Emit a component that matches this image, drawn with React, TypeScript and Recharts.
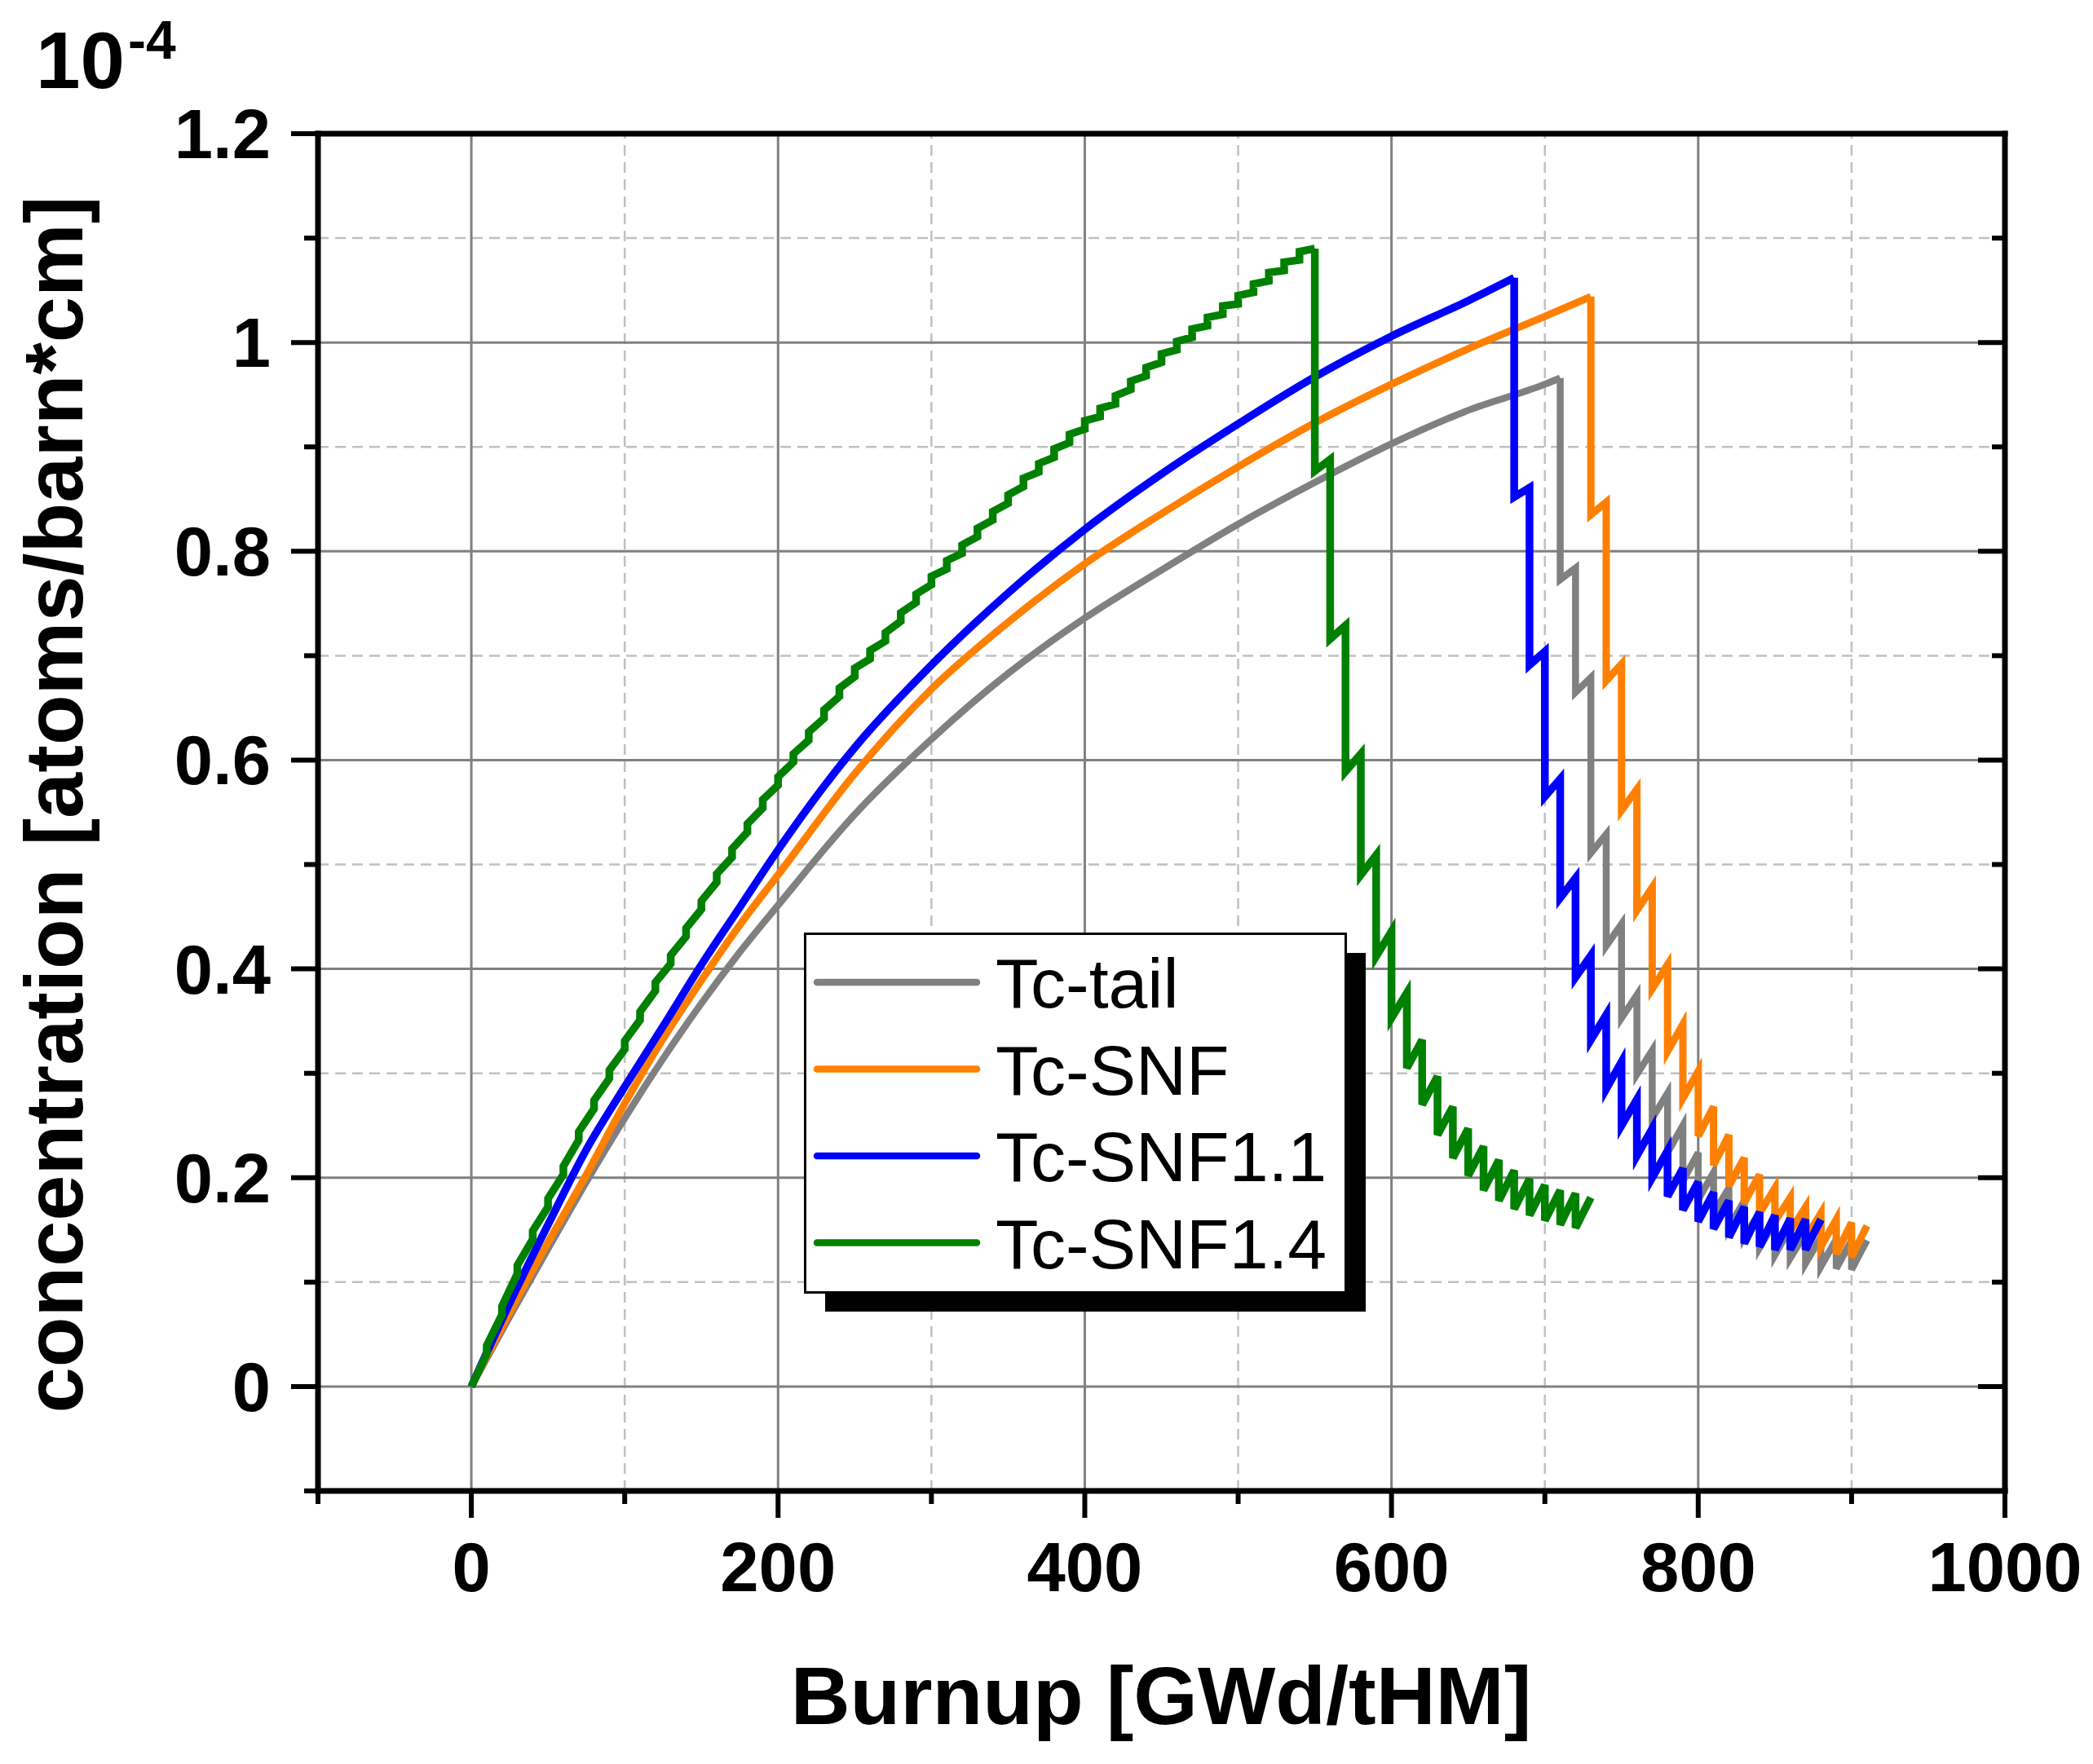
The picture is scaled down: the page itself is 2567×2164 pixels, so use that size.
import React from "react";
import { LineChart, Line, XAxis, YAxis, ReferenceLine } from "recharts";

const W = 2567;
const H = 2164;
const FONT = "'Liberation Sans', Arial, Helvetica, sans-serif";

// axis ticks
const xMajor = [0, 200, 400, 600, 800, 1000];
const xMinor = [-100, 100, 300, 500, 700, 900];
const yMajor = [0, 0.2, 0.4, 0.6, 0.8, 1, 1.2];
const yMinor = [-0.1, 0.1, 0.3, 0.5, 0.7, 0.9, 1.1];

// Tc-tail
const tailRiseX = [0, 25, 50, 75, 100, 125, 150, 175, 200, 250, 300, 350, 400, 450, 500, 550, 600, 650, 700, 710];
const tailRiseY = [0, 0.067, 0.132, 0.196, 0.257, 0.314, 0.367, 0.416, 0.461, 0.548, 0.62, 0.683, 0.736, 0.782, 0.826, 0.866, 0.903, 0.935, 0.96, 0.966];
const tailDropX = [710, 720, 730, 740, 750, 760, 770, 780, 790, 800, 810, 820, 830, 840, 850, 860, 870, 880, 890, 900];
const tailDropTop = [0.966, 0.784, 0.679, 0.529, 0.443, 0.375, 0.322, 0.281, 0.25, 0.224, 0.205, 0.19, 0.178, 0.167, 0.158, 0.152, 0.147, 0.143, 0.141, 0.14];
const tailDropBottom = [0.773, 0.665, 0.511, 0.422, 0.353, 0.299, 0.257, 0.224, 0.197, 0.179, 0.166, 0.152, 0.143, 0.133, 0.126, 0.123, 0.118, 0.115, 0.113, 0.112];
const tailEnd = [910, 0.14];

// Tc-SNF
const snfRiseX = [0, 25, 50, 75, 100, 125, 150, 175, 200, 250, 300, 350, 400, 450, 500, 550, 600, 650, 700, 730];
const snfRiseY = [0, 0.071, 0.138, 0.203, 0.271, 0.333, 0.389, 0.442, 0.49, 0.587, 0.668, 0.732, 0.788, 0.836, 0.881, 0.923, 0.96, 0.994, 1.025, 1.044];
const snfDropX = [730, 740, 750, 760, 770, 780, 790, 800, 810, 820, 830, 840, 850, 860, 870, 880, 890, 900];
const snfDropTop = [1.044, 0.847, 0.692, 0.572, 0.478, 0.404, 0.347, 0.302, 0.268, 0.241, 0.219, 0.203, 0.19, 0.181, 0.172, 0.166, 0.16, 0.157];
const snfDropBottom = [0.835, 0.676, 0.552, 0.456, 0.381, 0.321, 0.276, 0.24, 0.212, 0.192, 0.176, 0.166, 0.158, 0.149, 0.142, 0.134, 0.127, 0.124];
const snfEnd = [910, 0.154];

// Tc-SNF1.1
const snf11RiseX = [0, 25, 50, 75, 100, 125, 150, 175, 200, 250, 300, 350, 400, 450, 500, 550, 600, 650, 680];
const snf11RiseY = [0, 0.08, 0.155, 0.227, 0.287, 0.345, 0.404, 0.459, 0.514, 0.612, 0.691, 0.76, 0.821, 0.874, 0.922, 0.967, 1.006, 1.04, 1.062];
const snf11DropX = [680, 690, 700, 710, 720, 730, 740, 750, 760, 770, 780, 790, 800, 810, 820, 830, 840, 850, 860, 870];
const snf11DropTop = [1.062, 0.861, 0.704, 0.582, 0.487, 0.413, 0.356, 0.311, 0.275, 0.247, 0.226, 0.209, 0.196, 0.186, 0.178, 0.172, 0.167, 0.164, 0.161, 0.16];
const snf11DropBottom = [0.852, 0.691, 0.565, 0.468, 0.392, 0.332, 0.285, 0.25, 0.221, 0.2, 0.182, 0.169, 0.158, 0.151, 0.143, 0.137, 0.134, 0.131, 0.131, 0.131];
const snf11End = [880, 0.16];

// Tc-SNF1.4 (rise has visible steps every 10 GWd)
const snf14StepX = [10, 20, 30, 40, 50, 60, 70, 80, 90, 100, 110, 120, 130, 140, 150, 160, 170, 180, 190, 200, 210, 220, 230, 240, 250, 260, 270, 280, 290, 300, 310, 320, 330, 340, 350, 360, 370, 380, 390, 400, 410, 420, 430, 440, 450, 460, 470, 480, 490, 500, 510, 520, 530, 540];
const snf14StepLow = [0.031, 0.069, 0.108, 0.141, 0.172, 0.203, 0.236, 0.266, 0.295, 0.323, 0.351, 0.379, 0.405, 0.431, 0.457, 0.483, 0.507, 0.531, 0.554, 0.576, 0.598, 0.619, 0.64, 0.661, 0.68, 0.697, 0.714, 0.733, 0.751, 0.768, 0.783, 0.798, 0.814, 0.83, 0.846, 0.862, 0.876, 0.89, 0.904, 0.917, 0.929, 0.941, 0.955, 0.968, 0.981, 0.993, 1.005, 1.016, 1.027, 1.037, 1.048, 1.059, 1.069, 1.079];
const snf14StepHigh = [0.039, 0.077, 0.116, 0.149, 0.18, 0.211, 0.244, 0.274, 0.303, 0.331, 0.359, 0.387, 0.413, 0.439, 0.465, 0.491, 0.515, 0.539, 0.562, 0.584, 0.606, 0.627, 0.648, 0.669, 0.688, 0.705, 0.722, 0.741, 0.759, 0.776, 0.791, 0.806, 0.822, 0.838, 0.854, 0.87, 0.884, 0.898, 0.912, 0.925, 0.937, 0.949, 0.963, 0.976, 0.989, 1.001, 1.013, 1.024, 1.035, 1.045, 1.056, 1.067, 1.077, 1.087];
const snf14DropX = [550, 560, 570, 580, 590, 600, 610, 620, 630, 640, 650, 660, 670, 680, 690, 700, 710, 720];
const snf14DropTop = [1.09, 0.888, 0.729, 0.606, 0.509, 0.436, 0.377, 0.332, 0.297, 0.268, 0.247, 0.23, 0.217, 0.207, 0.199, 0.193, 0.188, 0.185];
const snf14DropBottom = [0.877, 0.716, 0.589, 0.49, 0.412, 0.353, 0.305, 0.27, 0.241, 0.219, 0.202, 0.188, 0.178, 0.17, 0.164, 0.159, 0.155, 0.152];
const snf14End = [730, 0.181];

type Pt = { x: number; y: number };

function drops(dx: number[], top: number[], bottom: number[], end: number[]): Pt[] {
  const out: Pt[] = [];
  dx.forEach((x, i) => {
    out.push({ x, y: top[i] });
    out.push({ x, y: bottom[i] });
  });
  out.push({ x: end[0], y: end[1] });
  return out;
}

const zip = (xs: number[], ys: number[]): Pt[] => xs.map((x, i) => ({ x, y: ys[i] }));

const snf14Rise: Pt[] = [{ x: 0, y: 0 }];
snf14StepX.forEach((x, i) => {
  snf14Rise.push({ x, y: snf14StepLow[i] });
  snf14Rise.push({ x, y: snf14StepHigh[i] });
});
snf14Rise.push({ x: snf14DropX[0], y: snf14DropTop[0] });

const series = [
  { name: "Tc-tail", color: "#808080", width: 8.5, rise: zip(tailRiseX, tailRiseY), riseType: "monotone", fall: drops(tailDropX, tailDropTop, tailDropBottom, tailEnd) },
  { name: "Tc-SNF", color: "#ff8000", width: 9, rise: zip(snfRiseX, snfRiseY), riseType: "monotone", fall: drops(snfDropX, snfDropTop, snfDropBottom, snfEnd) },
  { name: "Tc-SNF1.1", color: "#0000ff", width: 9.5, rise: zip(snf11RiseX, snf11RiseY), riseType: "monotone", fall: drops(snf11DropX, snf11DropTop, snf11DropBottom, snf11End) },
  { name: "Tc-SNF1.4", color: "#008000", width: 9.5, rise: snf14Rise, riseType: "linear", fall: drops(snf14DropX, snf14DropTop, snf14DropBottom, snf14End) },
];

const near = (arr: number[], v: number) => arr.some((a) => Math.abs(a - v) < 1e-9);
const xTicks = [...xMinor, ...xMajor].sort((a, b) => a - b);
const yTicks = [...yMinor, ...yMajor].sort((a, b) => a - b);

const BottomTick = (props: any) => {
  const { x, y, payload } = props;
  const major = near(xMajor, payload.value);
  return (
    <g>
      <line x1={x} y1={y} x2={x} y2={y + (major ? 33 : 16)} stroke="#000" strokeWidth={6} />
      {major && (
        <text x={x} y={y + 123} textAnchor="middle" fontSize={85} fontWeight="bold" fontFamily={FONT} fill="#000">
          {payload.value}
        </text>
      )}
    </g>
  );
};

const TopTick = (props: any) => {
  const { x, y, payload } = props;
  const major = near(xMajor, payload.value);
  return <line x1={x} y1={y} x2={x} y2={y + (major ? 33 : 16)} stroke="#000" strokeWidth={6} />;
};

const LeftTick = (props: any) => {
  const { x, y, payload } = props;
  const major = near(yMajor, payload.value);
  return (
    <g>
      <line x1={x - (major ? 33 : 17)} y1={y} x2={x} y2={y} stroke="#000" strokeWidth={6} />
      {major && (
        <text x={x - 58} y={y + 30} textAnchor="end" fontSize={85} fontWeight="bold" fontFamily={FONT} fill="#000">
          {payload.value}
        </text>
      )}
    </g>
  );
};

const RightTick = (props: any) => {
  const { x, y, payload } = props;
  const major = near(yMajor, payload.value);
  return <line x1={x - (major ? 33 : 16)} y1={y} x2={x} y2={y} stroke="#000" strokeWidth={6} />;
};

const axisLine = { stroke: "#000", strokeWidth: 7, strokeLinecap: "square" as const };

export default function App() {
  return (
    <div style={{ position: "fixed", left: 0, top: 0, width: W, height: H, background: "#fff", overflow: "hidden" }}>
      <LineChart width={W} height={H} margin={{ top: 163, right: W - 2460, bottom: H - 1830, left: 389 }}>
        <XAxis
          xAxisId="b"
          type="number"
          dataKey="x"
          domain={[-100, 1000]}
          ticks={xTicks}
          interval={0}
          height={1}
          tickSize={0}
          tickMargin={0}
          tickLine={false}
          axisLine={axisLine}
          tick={<BottomTick />}
          allowDataOverflow
        />
        <XAxis
          xAxisId="t"
          orientation="top"
          type="number"
          domain={[-100, 1000]}
          ticks={xTicks}
          interval={0}
          height={1}
          tickSize={0}
          tickMargin={0}
          tickLine={false}
          axisLine={axisLine}
          tick={<TopTick />}
          allowDataOverflow
        />
        <YAxis
          yAxisId="l"
          type="number"
          domain={[-0.1, 1.2]}
          ticks={yTicks}
          interval={0}
          width={1}
          tickSize={0}
          tickMargin={0}
          tickLine={false}
          axisLine={axisLine}
          tick={<LeftTick />}
          allowDataOverflow
        />
        <YAxis
          yAxisId="r"
          orientation="right"
          type="number"
          domain={[-0.1, 1.2]}
          ticks={yTicks}
          interval={0}
          width={1}
          tickSize={0}
          tickMargin={0}
          tickLine={false}
          axisLine={axisLine}
          tick={<RightTick />}
          allowDataOverflow
        />
        {xMinor.filter((v) => v > -100).map((v) => (
          <ReferenceLine key={"xm" + v} xAxisId="b" yAxisId="l" x={v} stroke="#c0c0c0" strokeWidth={2.5} strokeDasharray="13 8" />
        ))}
        {yMinor.filter((v) => v > -0.1).map((v) => (
          <ReferenceLine key={"ym" + v} xAxisId="b" yAxisId="l" y={v} stroke="#c0c0c0" strokeWidth={2.5} strokeDasharray="13 8" />
        ))}
        {xMajor.filter((v) => v < 1000).map((v) => (
          <ReferenceLine key={"xM" + v} xAxisId="b" yAxisId="l" x={v} stroke="#808080" strokeWidth={3} />
        ))}
        {yMajor.filter((v) => v < 1.2).map((v) => (
          <ReferenceLine key={"yM" + v} xAxisId="b" yAxisId="l" y={v} stroke="#808080" strokeWidth={3} />
        ))}
        {series.map((s) => [
          <Line
            key={s.name + "-rise"}
            xAxisId="b"
            yAxisId="l"
            data={s.rise}
            dataKey="y"
            name={s.name}
            type={s.riseType as any}
            stroke={s.color}
            strokeWidth={s.width}
            dot={false}
            activeDot={false}
            isAnimationActive={false}
          />,
          <Line
            key={s.name + "-fall"}
            xAxisId="b"
            yAxisId="l"
            data={s.fall}
            dataKey="y"
            name={s.name + " "}
            type="linear"
            stroke={s.color}
            strokeWidth={s.width}
            dot={false}
            activeDot={false}
            isAnimationActive={false}
          />,
        ])}
      </LineChart>

      <svg width={W} height={H} style={{ position: "absolute", left: 0, top: 0, pointerEvents: "none" }}>
        <text x={44} y={108} fontSize={98} fontWeight="bold" fontFamily={FONT} fill="#000">10</text>
        <text x={157} y={72} fontSize={66} fontWeight="bold" fontFamily={FONT} fill="#000">-4</text>
        <text x={1424} y={2115} textAnchor="middle" fontSize={101} fontWeight="bold" fontFamily={FONT} fill="#000">
          Burnup [GWd/tHM]
        </text>
        <text
          transform="translate(101, 987) rotate(-90)"
          textAnchor="middle"
          fontSize={101}
          fontWeight="bold"
          fontFamily={FONT}
          fill="#000"
        >
          concentration [atoms/barn*cm]
        </text>
      </svg>

      <svg width={700} height={480} style={{ position: "absolute", left: 986, top: 1144, pointerEvents: "none" }}>
        <rect x={26} y={25} width={663} height={440} fill="#000" />
        <rect x={1.5} y={1.5} width={663} height={440} fill="#fff" stroke="#000" strokeWidth={3} />
        {series.map((s, i) => {
          const cy = 61 + i * 106.5;
          return (
            <g key={s.name}>
              <line x1={16} y1={cy} x2={212} y2={cy} stroke={s.color} strokeWidth={8.5} strokeLinecap="round" />
              <text x={235} y={cy + 31} fontSize={86} fontFamily={FONT} fill="#000">
                {s.name}
              </text>
            </g>
          );
        })}
      </svg>
    </div>
  );
}
